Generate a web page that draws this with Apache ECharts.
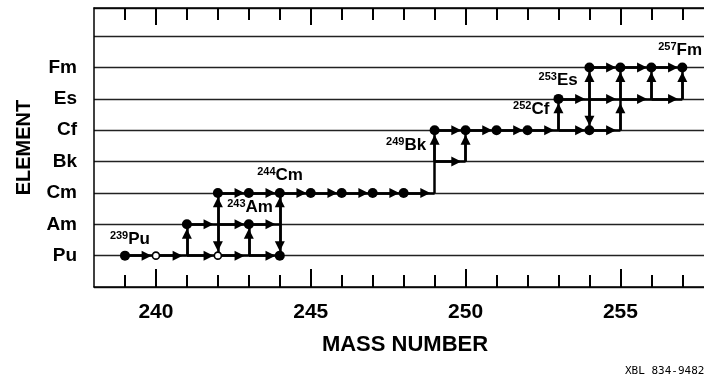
<!DOCTYPE html>
<html>
<head>
<meta charset="utf-8">
<script src="https://cdn.jsdelivr.net/npm/echarts@6.0.0/dist/echarts.min.js"></script>
<style>
  html, body { margin: 0; padding: 0; background: #fff; }
  #chart { width: 704px; height: 380px; }
</style>
</head>
<body>
<div id="chart"></div>
<script>
const ELEMENTS = ['Pu', 'Am', 'Cm', 'Bk', 'Cf', 'Es', 'Fm'];
const MASS_TICKS = [239, 240, 241, 242, 243, 244, 245, 246, 247, 248, 249, 250, 251, 252, 253, 254, 255, 256, 257];
const MASS_LABELS = [240, 245, 250, 255];

// nuclides drawn as dots
const filledNuclides = [
  ['Pu', 239], ['Pu', 244],
  ['Am', 241], ['Am', 243],
  ['Cm', 242], ['Cm', 243], ['Cm', 244], ['Cm', 245], ['Cm', 246], ['Cm', 247], ['Cm', 248],
  ['Cf', 249], ['Cf', 250], ['Cf', 251], ['Cf', 252], ['Cf', 254],
  ['Es', 253],
  ['Fm', 254], ['Fm', 255], ['Fm', 256], ['Fm', 257]
];
const openNuclides = [['Pu', 240], ['Pu', 242]];

// neutron capture: element, from mass, to mass
const captureSteps = [
  ['Pu', 239, 240], ['Pu', 240, 241], ['Pu', 241, 242], ['Pu', 242, 243], ['Pu', 243, 244],
  ['Am', 241, 242], ['Am', 242, 243], ['Am', 243, 244],
  ['Cm', 242, 243], ['Cm', 243, 244], ['Cm', 244, 245], ['Cm', 245, 246], ['Cm', 246, 247],
  ['Cm', 247, 248], ['Cm', 248, 249],
  ['Bk', 249, 250],
  ['Cf', 249, 250], ['Cf', 250, 251], ['Cf', 251, 252], ['Cf', 252, 253], ['Cf', 253, 254], ['Cf', 254, 255],
  ['Es', 253, 254], ['Es', 254, 255], ['Es', 255, 256], ['Es', 256, 257],
  ['Fm', 254, 255], ['Fm', 255, 256], ['Fm', 256, 257]
];
// decays: mass, from element, to element
const decaySteps = [
  [241, 'Pu', 'Am'],
  [242, 'Am', 'Cm'], [242, 'Am', 'Pu'],
  [243, 'Pu', 'Am'],
  [244, 'Am', 'Cm'], [244, 'Am', 'Pu'],
  [249, 'Bk', 'Cf'],
  [250, 'Bk', 'Cf'],
  [253, 'Cf', 'Es'],
  [254, 'Es', 'Fm'], [254, 'Es', 'Cf'],
  [255, 'Cf', 'Es'], [255, 'Es', 'Fm'],
  [256, 'Es', 'Fm'],
  [257, 'Es', 'Fm']
];
const plainSteps = [[249, 'Cm', 'Bk']];

// isotope tags: mass, element, x, y
const isotopeLabels = [
  ['239', 'Pu', 239.16, 1.53],
  ['243', 'Am', 243.04, 2.55],
  ['244', 'Cm', 244.01, 3.57],
  ['249', 'Bk', 248.08, 4.53],
  ['252', 'Cf', 252.12, 5.68],
  ['253', 'Es', 252.99, 6.60],
  ['257', 'Fm', 256.93, 7.56]
];

const ARROW_AT = 0.7;
const FONT = '"Liberation Sans", Arial, sans-serif';

function level(el) {
  return ELEMENTS.indexOf(el) + 1;
}

const edges = [
  ...captureSteps.map(([el, a, b]) => [[a, level(el)], [b, level(el)]]),
  ...decaySteps.map(([m, from, to]) => [[m, level(from)], [m, level(to)]])
];
const plainEdges = plainSteps.map(([m, from, to]) => [[m, level(from)], [m, level(to)]]);

const fullLines = edges.concat(plainEdges).map((coords) => ({ coords }));
const arrowLines = edges.map(([p, q]) => ({
  coords: [p, [p[0] + (q[0] - p[0]) * ARROW_AT, p[1] + (q[1] - p[1]) * ARROW_AT]]
}));

const xRange = { type: 'value', min: 238, max: 257.7 };
const tickLine = { color: '#000', width: 2 };

const chart = echarts.init(document.getElementById('chart'), null, { renderer: 'canvas' });
chart.setOption({
  animation: false,
  backgroundColor: '#fff',
  grid: { left: 94, right: 0, top: 8, bottom: 93 },
  xAxis: [
    {
      ...xRange,
      position: 'bottom',
      axisLine: { show: true, lineStyle: { color: '#000', width: 1.5 } },
      axisTick: { show: true, inside: true, length: 12, customValues: MASS_TICKS, lineStyle: tickLine },
      axisLabel: {
        customValues: MASS_LABELS,
        color: '#000',
        fontFamily: FONT,
        fontWeight: 'bold',
        fontSize: 21,
        margin: 15
      },
      splitLine: { show: false },
      name: 'MASS NUMBER',
      nameLocation: 'middle',
      nameGap: 47,
      nameTextStyle: { color: '#000', fontFamily: FONT, fontWeight: 'bold', fontSize: 22, padding: [0, 0, 0, 12] }
    },
    {
      ...xRange,
      position: 'bottom',
      axisLine: { show: false },
      axisTick: { show: true, inside: true, length: 18, customValues: MASS_LABELS, lineStyle: tickLine },
      axisLabel: { show: false },
      splitLine: { show: false }
    },
    {
      ...xRange,
      position: 'top',
      axisLine: { show: true, lineStyle: { color: '#000', width: 1.5 } },
      axisTick: { show: true, inside: true, length: 12, customValues: MASS_TICKS, lineStyle: tickLine },
      axisLabel: { show: false },
      splitLine: { show: false }
    },
    {
      ...xRange,
      position: 'top',
      axisLine: { show: false },
      axisTick: { show: true, inside: true, length: 17, customValues: MASS_LABELS, lineStyle: tickLine },
      axisLabel: { show: false },
      splitLine: { show: false }
    }
  ],
  yAxis: {
    type: 'value',
    min: 0,
    max: 8.9,
    interval: 1,
    axisLine: { show: true, lineStyle: { color: '#000', width: 1.5 } },
    axisTick: { show: false },
    splitLine: { show: true, lineStyle: { color: '#222', width: 1.3 } },
    axisLabel: {
      customValues: [1, 2, 3, 4, 5, 6, 7],
      formatter: (v) => ELEMENTS[v - 1] || '',
      color: '#000',
      fontFamily: FONT,
      fontWeight: 'bold',
      fontSize: 19,
      margin: 17
    },
    name: 'ELEMENT',
    nameLocation: 'middle',
    nameGap: 60,
    nameRotate: 90,
    nameTextStyle: { color: '#000', fontFamily: FONT, fontWeight: 'bold', fontSize: 20 }
  },
  series: [
    {
      type: 'lines',
      coordinateSystem: 'cartesian2d',
      silent: true,
      z: 3,
      symbol: 'none',
      lineStyle: { color: '#000', width: 2.5, opacity: 1, curveness: 0 },
      data: fullLines
    },
    {
      type: 'lines',
      coordinateSystem: 'cartesian2d',
      silent: true,
      z: 4,
      symbol: ['none', 'triangle'],
      symbolSize: 10,
      lineStyle: { color: '#000', width: 2.5, opacity: 1, curveness: 0 },
      data: arrowLines
    },
    {
      type: 'scatter',
      z: 5,
      symbol: 'circle',
      symbolSize: 10,
      itemStyle: { color: '#000', opacity: 1 },
      data: filledNuclides.map(([el, m]) => [m, level(el)])
    },
    {
      type: 'scatter',
      z: 5,
      symbol: 'circle',
      symbolSize: 7,
      itemStyle: { color: '#fff', borderColor: '#000', borderWidth: 1.6, opacity: 1 },
      data: openNuclides.map(([el, m]) => [m, level(el)])
    },
    {
      type: 'scatter',
      z: 6,
      symbolSize: 1,
      itemStyle: { color: 'rgba(255,255,255,0)', opacity: 1 },
      label: {
        show: true,
        position: 'inside',
        color: '#000',
        opacity: 1,
        textBorderWidth: 0,
        formatter: (p) => `{s|${p.data.mass}}{e|${p.data.el}}`,
        rich: {
          s: { fontFamily: FONT, fontWeight: 'bold', fontSize: 11, color: '#000', verticalAlign: 'top', lineHeight: 17 },
          e: { fontFamily: FONT, fontWeight: 'bold', fontSize: 17, color: '#000', lineHeight: 17 }
        }
      },
      data: isotopeLabels.map(([mass, el, x, y]) => ({ value: [x, y], mass, el }))
    }
  ],
  graphic: [
    {
      type: 'text',
      left: 625,
      top: 366,
      style: { text: 'XBL 834-9482', fill: '#000', font: '11px "DejaVu Sans Mono", monospace' }
    }
  ]
});
</script>
</body>
</html>
